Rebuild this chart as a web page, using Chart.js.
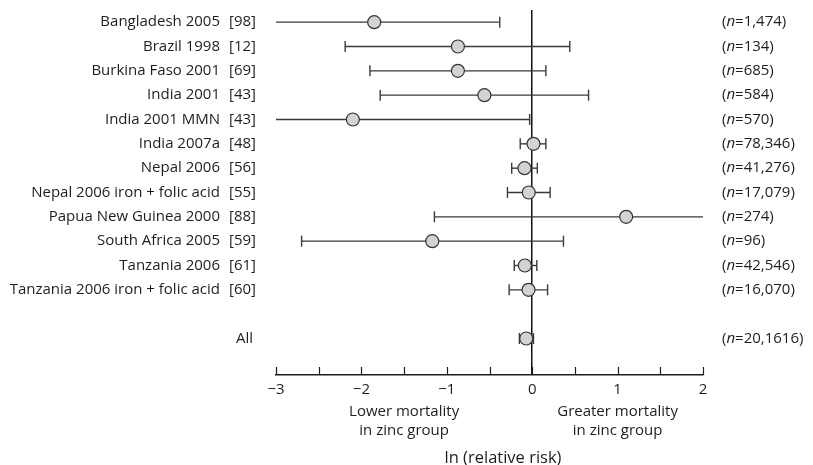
<!DOCTYPE html>
<html>
<head>
<meta charset="utf-8">
<script src="https://cdn.jsdelivr.net/npm/chart.js@4"></script>
<style>
  body { margin: 0; background: #fff; }
  #wrap { width: 813px; height: 465px; }
</style>
</head>
<body>
<div id="wrap"><canvas id="forestChart" width="813" height="465"></canvas></div>
<script>
// Study data
const studies = ['Bangladesh 2005', 'Brazil 1998', 'Burkina Faso 2001', 'India 2001', 'India 2001 MMN',
  'India 2007a', 'Nepal 2006', 'Nepal 2006 iron + folic acid', 'Papua New Guinea 2000',
  'South Africa 2005', 'Tanzania 2006', 'Tanzania 2006 iron + folic acid', 'All'];
const refs = ['[98]', '[12]', '[69]', '[43]', '[43]', '[48]', '[56]', '[55]', '[88]', '[59]', '[61]', '[60]', ''];
const sizes = ['1,474', '134', '685', '584', '570', '78,346', '41,276', '17,079', '274', '96', '42,546', '16,070', '20,1616'];
const rows = [0, 1, 2, 3, 4, 5, 6, 7, 8, 9, 10, 11, 13];
const estimate = [-1.85, -0.87, -0.87, -0.56, -2.10, 0.015, -0.09, -0.04, 1.10, -1.17, -0.086, -0.043, -0.07];
const lower = [-3.3, -2.19, -1.90, -1.78, -3.4, -0.14, -0.24, -0.29, -1.145, -2.70, -0.21, -0.27, -0.15];
const upper = [-0.38, 0.44, 0.16, 0.66, -0.03, 0.16, 0.06, 0.21, 2.3, 0.366, 0.054, 0.18, 0.015];
const xTicks = [-3, -2.5, -2, -1.5, -1, -0.5, 0, 0.5, 1, 1.5, 2];

const FONT = '"Open Sans", "Noto Sans", sans-serif';
const INK = '#1e1e1e';

// one line dataset per study for the confidence interval, caps drawn as rotated line points
const intervalSets = studies.map((s, i) => ({
  label: s,
  data: [{ x: lower[i], y: rows[i] }, { x: upper[i], y: rows[i] }],
  showLine: true,
  borderColor: '#3a3a3a',
  borderWidth: 1.4,
  pointStyle: 'line',
  rotation: 90,
  pointRadius: 5.5,
  pointBorderWidth: 1.4,
  pointBorderColor: '#3a3a3a',
  order: 1
}));

const estimateSet = {
  label: 'estimate',
  data: estimate.map((v, i) => ({ x: v, y: rows[i] })),
  pointStyle: 'circle',
  pointRadius: 6.5,
  pointBackgroundColor: '#d3d3d5',
  pointBorderColor: '#333',
  pointBorderWidth: 1.2,
  showLine: false,
  order: 0
};

// labels and tick marks around the plot
const forestText = {
  id: 'forestText',
  afterDraw(chart) {
    const { ctx, scales: { x, y }, chartArea } = chart;
    ctx.save();
    ctx.fillStyle = INK;
    ctx.textBaseline = 'middle';
    studies.forEach((s, i) => {
      const py = y.getPixelForValue(rows[i]);
      ctx.font = '15px ' + FONT;
      if (refs[i]) {
        ctx.textAlign = 'right';
        ctx.fillText(s, 220, py);
        ctx.textAlign = 'left';
        ctx.fillText(refs[i], 229, py);
      } else {
        ctx.textAlign = 'right';
        ctx.fillText(s, 253, py);
      }
      // (n=...)
      let px = 722;
      ctx.textAlign = 'left';
      ctx.fillText('(', px, py);
      px += ctx.measureText('(').width;
      ctx.font = 'italic 15px ' + FONT;
      ctx.fillText('n', px, py);
      px += ctx.measureText('n').width;
      ctx.font = '15px ' + FONT;
      ctx.fillText('=' + sizes[i] + ')', px, py);
    });

    // tick marks pointing up from the axis
    ctx.strokeStyle = INK;
    ctx.lineWidth = 1.2;
    x.ticks.forEach(t => {
      const px = Math.round(x.getPixelForValue(t.value)) + 0.5;
      ctx.beginPath();
      ctx.moveTo(px, chartArea.bottom);
      ctx.lineTo(px, chartArea.bottom - 8);
      ctx.stroke();
    });

    ctx.textAlign = 'center';
    ctx.font = '15px ' + FONT;
    const lx = x.getPixelForValue(-1.5);
    const gx = x.getPixelForValue(1.0);
    ctx.fillText('Lower mortality', lx, 412);
    ctx.fillText('in zinc group', lx, 431);
    ctx.fillText('Greater mortality', gx, 412);
    ctx.fillText('in zinc group', gx, 431);
    ctx.font = '16.5px ' + FONT;
    ctx.fillText('ln (relative risk)', 503, 458);
    ctx.restore();
  }
};

const ctx = document.getElementById('forestChart').getContext('2d');
const forestChart = new Chart(ctx, {
  type: 'scatter',
  data: { datasets: [estimateSet, ...intervalSets] },
  options: {
    responsive: false,
    animation: false,
    layout: { padding: { left: 276, right: 110, top: 10, bottom: 0 } },
    plugins: { legend: { display: false }, tooltip: { enabled: false } },
    scales: {
      x: {
        type: 'linear',
        min: -3,
        max: 2,
        afterBuildTicks: scale => { scale.ticks = xTicks.map(v => ({ value: v })); },
        afterFit: scale => { scale.height = 90; },
        ticks: {
          autoSkip: false,
          maxRotation: 0,
          padding: 6,
          color: INK,
          font: { family: FONT, size: 15 },
          callback: v => Number.isInteger(v) ? (v < 0 ? '\u2212' + Math.abs(v) : String(v)) : ''
        },
        grid: {
          drawTicks: false,
          lineWidth: 1.5,
          color: c => (c.tick && c.tick.value === 0) ? '#111' : 'rgba(0,0,0,0)'
        },
        border: { display: true, color: INK, width: 1.5 }
      },
      y: {
        type: 'linear',
        reverse: true,
        min: -0.5,
        max: 14.5,
        display: false
      }
    }
  },
  plugins: [forestText]
});
</script>
</body>
</html>
